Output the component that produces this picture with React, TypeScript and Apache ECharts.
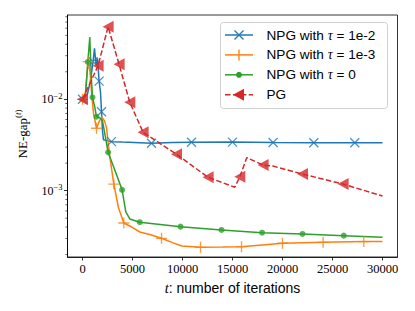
import React, { useEffect, useRef } from 'react';
import * as echarts from 'echarts';

// ---------- data ----------
const seriesNames = ['NPG with τ = 1e-2', 'NPG with τ = 1e-3', 'NPG with τ = 0', 'PG'];
const legendSuffix = ['1e-2', '1e-3', '0'];
const colors = ['#1f77b4', '#ff7f0e', '#2ca02c', '#d62728'];

const xTicks = [0, 5000, 10000, 15000, 20000, 25000, 30000];
const yTicks = [0.001, 0.01];
const yMinorTicks = [
  2e-4, 3e-4, 4e-4, 5e-4, 6e-4, 7e-4, 8e-4, 9e-4,
  2e-3, 3e-3, 4e-3, 5e-3, 6e-3, 7e-3, 8e-3, 9e-3,
  2e-2, 3e-2, 4e-2, 5e-2, 6e-2, 7e-2, 8e-2,
];

// NPG tau = 1e-2
const npg2Line = [
  [0, 0.01], [500, 0.0115], [800, 0.016], [1060, 0.0258], [1200, 0.036], [1350, 0.024],
  [1500, 0.028], [1660, 0.0158], [1800, 0.012], [1900, 0.0073], [2000, 0.0045], [2100, 0.0036],
  [2900, 0.00344], [4000, 0.0034], [6900, 0.0033], [9000, 0.00336], [10900, 0.00338],
  [15000, 0.0034], [19060, 0.00336], [23130, 0.00335], [27230, 0.00335], [30000, 0.00334],
];
const npg2Marks = [
  [0, 0.01], [1060, 0.0258], [1660, 0.0158], [1900, 0.0073], [2900, 0.00344], [6900, 0.0033],
  [10900, 0.00338], [15000, 0.0034], [19060, 0.00336], [23130, 0.00335], [27230, 0.00335],
];

// NPG tau = 1e-3
const npg3Line = [
  [0, 0.01], [300, 0.012], [560, 0.0258], [750, 0.02], [900, 0.012], [1100, 0.007],
  [1400, 0.00482], [1700, 0.0058], [1930, 0.0064], [2200, 0.0058], [2400, 0.0049],
  [2700, 0.0025], [3130, 0.00118], [3600, 0.00065], [4130, 0.000443], [4730, 0.000411],
  [5730, 0.000353], [6800, 0.00033], [7900, 0.000301], [9000, 0.00027], [9930, 0.000248],
  [11800, 0.00024], [14000, 0.000242], [15900, 0.000244], [20000, 0.000266],
  [24060, 0.000272], [28130, 0.000277], [30000, 0.000277],
];
const npg3Marks = [
  [0, 0.01], [560, 0.0258], [1400, 0.00482], [3130, 0.00118], [4130, 0.000443],
  [7900, 0.000301], [11800, 0.00024], [15900, 0.000244], [20000, 0.000266],
  [24060, 0.000272], [28130, 0.000277],
];

// NPG tau = 0
const npg0Line = [
  [0, 0.01], [300, 0.011], [530, 0.0256], [730, 0.048], [800, 0.03], [900, 0.016],
  [1000, 0.0105], [1200, 0.0085], [1400, 0.00645], [1700, 0.0063], [2000, 0.0058],
  [2300, 0.0038], [2560, 0.00263], [3230, 0.00168], [3960, 0.00102], [4330, 0.000585],
  [4730, 0.00049], [5730, 0.000452], [9800, 0.000404], [13900, 0.000372],
  [17960, 0.000347], [22000, 0.000336], [26130, 0.000322], [30000, 0.000309],
];
const npg0Marks = [
  [530, 0.0256], [1000, 0.0105], [1400, 0.00645], [2560, 0.00263], [3960, 0.00102],
  [5730, 0.000452], [9800, 0.000404], [13900, 0.000372], [17960, 0.000347],
  [22000, 0.000336], [26130, 0.000322],
];

// PG
const pgLine = [
  [0, 0.01], [1560, 0.0233], [2560, 0.0622], [3660, 0.0241], [4730, 0.00927],
  [6060, 0.00435], [9400, 0.0025], [12560, 0.0014], [15230, 0.00109], [15730, 0.00142],
  [16430, 0.0023], [18060, 0.00191], [19030, 0.00186], [22000, 0.00152],
  [26060, 0.00118], [30000, 0.000875],
];
const pgMarks = [
  [0, 0.01], [1560, 0.0233], [2560, 0.0622], [3660, 0.0241], [4730, 0.00927],
  [6060, 0.00435], [9400, 0.0025], [12560, 0.0014], [15730, 0.00142], [18060, 0.00191],
  [22000, 0.00152], [26060, 0.00118],
];

// ---------- config ----------
const X_MIN = -1500;
const X_MAX = 31500;
const Y_MIN = 1.88e-4;
const Y_MAX = 0.0836;

const CROSS = 'path://M0,0L10,10M0,10L10,0';
const PLUS = 'path://M5,0L5,10M0,5L10,5';

const SERIF = 'Liberation Serif';
const SANS = 'Liberation Sans';

function lineSeries(name: string, data: number[][], color: string, dashed = false) {
  return {
    name,
    type: 'line',
    data,
    symbol: 'none',
    smooth: false,
    lineStyle: { color, width: 1.5, type: dashed ? [5.5, 2.4] : 'solid' },
    z: 2,
  };
}

function markSeries(name: string, data: number[][], color: string, kind: string) {
  const base: any = {
    name: name + ' markers',
    type: 'scatter',
    data,
    z: 3,
    silent: true,
  };
  if (kind === 'cross') {
    base.symbol = CROSS;
    base.symbolSize = 9;
    base.itemStyle = { color: 'rgba(0,0,0,0)', borderColor: color, borderWidth: 1.3 };
  } else if (kind === 'plus') {
    base.symbol = PLUS;
    base.symbolSize = 11;
    base.itemStyle = { color: 'rgba(0,0,0,0)', borderColor: color, borderWidth: 1.3 };
  } else if (kind === 'dot') {
    base.symbol = 'circle';
    base.symbolSize = 6;
    base.itemStyle = { color };
  } else {
    base.symbol = 'triangle';
    base.symbolRotate = 90;
    base.symbolSize = [12, 11];
    base.itemStyle = { color };
  }
  return base;
}

function legendGraphic() {
  const items: any[] = [];
  items.push({
    type: 'rect',
    shape: { x: 220.5, y: 22.5, width: 167, height: 86, r: 3 },
    style: { fill: 'rgba(255,255,255,0.85)', stroke: '#d0d0d0', lineWidth: 1 },
    z: 50,
  });
  const kinds = ['cross', 'plus', 'dot', 'tri'];
  for (let i = 0; i < 4; i++) {
    const y = 35 + i * 19.9;
    const c = colors[i];
    items.push({
      type: 'line',
      shape: { x1: 225, y1: y, x2: 253, y2: y },
      style: { stroke: c, lineWidth: 1.5, lineDash: i === 3 ? [5.5, 2.4] : null },
      z: 51,
    });
    const mx = 239;
    if (kinds[i] === 'cross') {
      items.push({ type: 'line', shape: { x1: mx - 4.5, y1: y - 4.5, x2: mx + 4.5, y2: y + 4.5 }, style: { stroke: c, lineWidth: 1.3 }, z: 52 });
      items.push({ type: 'line', shape: { x1: mx - 4.5, y1: y + 4.5, x2: mx + 4.5, y2: y - 4.5 }, style: { stroke: c, lineWidth: 1.3 }, z: 52 });
    } else if (kinds[i] === 'plus') {
      items.push({ type: 'line', shape: { x1: mx, y1: y - 5.5, x2: mx, y2: y + 5.5 }, style: { stroke: c, lineWidth: 1.3 }, z: 52 });
    } else if (kinds[i] === 'dot') {
      items.push({ type: 'circle', shape: { cx: mx, cy: y, r: 3 }, style: { fill: c }, z: 52 });
    } else {
      items.push({
        type: 'polygon',
        shape: { points: [[mx - 6, y], [mx + 5, y - 6], [mx + 5, y + 6]] },
        style: { fill: c },
        z: 52,
      });
    }
    const text = i < 3
      ? `{n|NPG with }{i|τ}{n| = ${legendSuffix[i]}}`
      : '{n|PG}';
    items.push({
      type: 'text',
      x: 266.5,
      y,
      style: {
        text,
        verticalAlign: 'middle',
        align: 'left',
        rich: {
          n: { fontFamily: SANS, fontSize: 13.6, fill: '#000' },
          i: { fontFamily: SERIF, fontStyle: 'italic', fontSize: 14, fill: '#000' },
        },
      },
      z: 52,
    });
  }
  return items;
}

function buildOption() {
  return {
    animation: false,
    backgroundColor: '#fff',
    grid: {
      left: 67.5, right: 17.5, top: 15, bottom: 54,
      show: true, borderColor: '#000', borderWidth: 0.8, backgroundColor: 'transparent',
    },
    xAxis: {
      type: 'value',
      min: X_MIN,
      max: X_MAX,
      splitLine: { show: false },
      axisLine: { onZero: false, lineStyle: { color: '#000', width: 0.8 } },
      axisTick: { customValues: xTicks, length: 3.5, lineStyle: { color: '#000', width: 0.8 } },
      axisLabel: {
        customValues: xTicks,
        fontFamily: SERIF,
        fontSize: 12.5,
        color: '#000',
        margin: 5,
        formatter: (v: number) => String(v),
      },
      name: '{i|t}{n|: number of iterations}',
      nameLocation: 'middle',
      nameGap: 23,
      nameTextStyle: {
        rich: {
          i: { fontFamily: SERIF, fontStyle: 'italic', fontSize: 14.5, color: '#000' },
          n: { fontFamily: SANS, fontSize: 14, color: '#000' },
        },
      },
    },
    yAxis: {
      type: 'log',
      min: Y_MIN,
      max: Y_MAX,
      logBase: 10,
      splitLine: { show: false },
      axisLine: { show: true, onZero: false, lineStyle: { color: '#000', width: 0.8 } },
      axisTick: { customValues: yTicks, length: 3.5, lineStyle: { color: '#000', width: 0.8 } },
      axisLabel: {
        customValues: yTicks,
        margin: 5,
        formatter: (v: number) => `{b|10}{s|−${Math.abs(Math.round(Math.log10(v)))}}`,
        rich: {
          b: { fontFamily: SERIF, fontSize: 12, color: '#000', lineHeight: 16 },
          s: { fontFamily: SERIF, fontSize: 8.5, color: '#000', verticalAlign: 'top', lineHeight: 10 },
        },
      },
    },
    graphic: [
      {
        type: 'text',
        x: 22,
        y: 134,
        rotation: Math.PI / 2,
        style: {
          text: '{a|NE-gap}{s|(}{si|t}{s|)}',
          align: 'center',
          verticalAlign: 'middle',
          rich: {
            a: { fontFamily: SERIF, fontSize: 13, fill: '#000', lineHeight: 18 },
            s: { fontFamily: SERIF, fontSize: 9, fill: '#000', verticalAlign: 'top', lineHeight: 10 },
            si: { fontFamily: SERIF, fontStyle: 'italic', fontSize: 9, fill: '#000', verticalAlign: 'top', lineHeight: 10 },
          },
        },
      },
      ...legendGraphic(),
    ],
    series: [
      lineSeries(seriesNames[0], npg2Line, colors[0]),
      markSeries(seriesNames[0], npg2Marks, colors[0], 'cross'),
      lineSeries(seriesNames[1], npg3Line, colors[1]),
      markSeries(seriesNames[1], npg3Marks, colors[1], 'plus'),
      lineSeries(seriesNames[2], npg0Line, colors[2]),
      markSeries(seriesNames[2], npg0Marks, colors[2], 'dot'),
      lineSeries(seriesNames[3], pgLine, colors[3], true),
      markSeries(seriesNames[3], pgMarks, colors[3], 'tri'),
      {
        name: 'minor ticks',
        type: 'custom',
        coordinateSystem: 'cartesian2d',
        data: yMinorTicks.map((v) => [X_MIN, v]),
        clip: false,
        silent: true,
        z: 10,
        renderItem: (_params: any, api: any) => {
          const p = api.coord([X_MIN, api.value(1)]);
          return {
            type: 'line',
            shape: { x1: p[0], y1: p[1], x2: p[0] - 2.2, y2: p[1] },
            style: { stroke: '#000', lineWidth: 0.6 },
          };
        },
      },
    ],
  };
}

export default function App() {
  const ref = useRef<HTMLDivElement>(null);
  useEffect(() => {
    if (!ref.current) return;
    const chart = echarts.init(ref.current, null, { renderer: 'svg' });
    chart.setOption(buildOption() as any);
    return () => chart.dispose();
  }, []);
  return (
    <div
      ref={ref}
      style={{ position: 'fixed', left: 0, top: 0, width: 415, height: 311, background: '#fff' }}
    />
  );
}
